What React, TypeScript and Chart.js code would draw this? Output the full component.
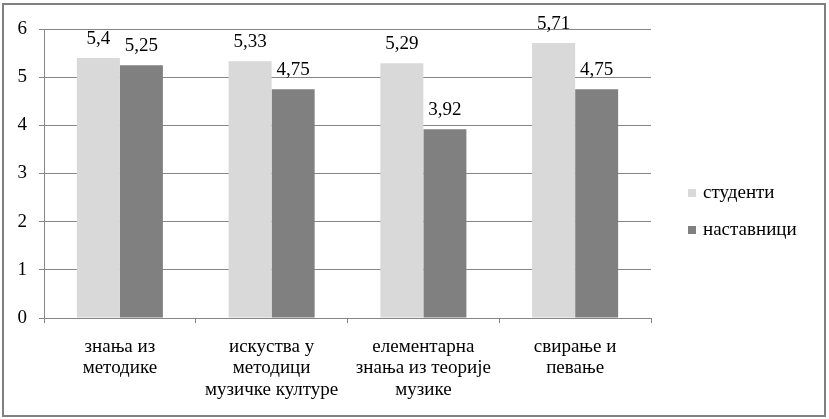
import React, { useEffect, useRef } from "react";
import { Chart, registerables } from "chart.js";

Chart.register(...registerables);

const categories: string[][] = [
  ["знања из", "методике"],
  ["искуства у", "методици", "музичке културе"],
  ["елементарна", "знања из теорије", "музике"],
  ["свирање и", "певање"],
];
const seriesNames = ["студенти", "наставници"];
const studenti = [5.4, 5.33, 5.29, 5.71];
const nastavnici = [5.25, 4.75, 3.92, 4.75];
const yTicks = [0, 1, 2, 3, 4, 5, 6];

const FONT = "'Liberation Serif', 'Times New Roman', serif";
const FS = 19;
const COLORS = ["#d9d9d9", "#808080"];

const decor = {
  id: "decor",
  afterDatasetsDraw(chart: any) {
    const ctx = chart.ctx;
    ctx.save();
    ctx.font = `${FS}px ${FONT}`;
    ctx.fillStyle = "#000";
    ctx.textAlign = "center";
    ctx.textBaseline = "alphabetic";
    chart.data.datasets.forEach((ds: any, i: number) => {
      const meta = chart.getDatasetMeta(i);
      meta.data.forEach((bar: any, j: number) => {
        const v = ds.data[j];
        ctx.fillText(String(v).replace(".", ","), bar.x, bar.y - 14);
      });
    });
    ctx.restore();
  },
  afterDraw(chart: any) {
    const ctx = chart.ctx;
    const area = chart.chartArea;
    ctx.save();
    ctx.font = `${FS}px ${FONT}`;
    ctx.textBaseline = "middle";
    ctx.textAlign = "left";
    const lx = area.right + 37;
    const ys = [193, 230];
    seriesNames.forEach((name, i) => {
      ctx.fillStyle = COLORS[i];
      ctx.fillRect(lx, ys[i] - 4, 8, 8);
      ctx.fillStyle = "#000";
      ctx.fillText(name, lx + 15, ys[i]);
    });
    ctx.strokeStyle = "#808080";
    ctx.lineWidth = 2;
    ctx.strokeRect(3, 4, 822, 412);
    ctx.restore();
  },
};

export default function App() {
  const ref = useRef<HTMLCanvasElement | null>(null);
  useEffect(() => {
    document.body.style.margin = "0";
    const canvas = ref.current!;
    const chart = new Chart(canvas, {
      type: "bar",
      data: {
        labels: categories,
        datasets: [
          {
            label: seriesNames[0],
            data: studenti,
            backgroundColor: COLORS[0],
            categoryPercentage: 0.567,
            barPercentage: 1,
          },
          {
            label: seriesNames[1],
            data: nastavnici,
            backgroundColor: COLORS[1],
            categoryPercentage: 0.567,
            barPercentage: 1,
          },
        ],
      },
      plugins: [decor],
      options: {
        animation: false,
        responsive: false,
        maintainAspectRatio: false,
        layout: { padding: { left: 0, right: 178, top: 29, bottom: 0 } },
        plugins: {
          legend: { display: false },
          tooltip: { enabled: false },
        },
        scales: {
          x: {
            offset: true,
            afterFit: (axis: any) => {
              axis.height = 101;
            },
            grid: {
              display: true,
              drawOnChartArea: false,
              drawTicks: true,
              tickLength: 5,
              offset: true,
              color: "#868686",
            },
            border: { display: true, color: "#868686" },
            ticks: {
              color: "#000",
              font: { family: FONT, size: FS, lineHeight: 1.13 },
              padding: 13,
              maxRotation: 0,
              autoSkip: false,
            },
          },
          y: {
            min: 0,
            max: 6,
            afterFit: (axis: any) => {
              axis.width = 44;
            },
            afterBuildTicks: (axis: any) => {
              axis.ticks = yTicks.map((v) => ({ value: v }));
            },
            grid: { color: "#868686", tickLength: 5 },
            border: { display: true, color: "#868686" },
            ticks: {
              color: "#000",
              font: { family: FONT, size: FS },
              padding: 12,
            },
          },
        },
      },
    });
    return () => chart.destroy();
  }, []);
  return (
    <div style={{ width: 829, height: 419, background: "#fff" }}>
      <canvas ref={ref} width={829} height={419} style={{ display: "block" }} />
    </div>
  );
}
